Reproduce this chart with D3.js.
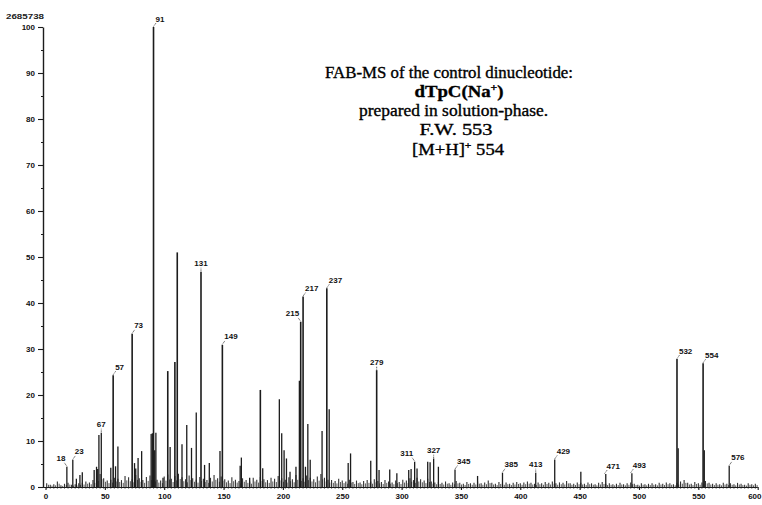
<!DOCTYPE html>
<html>
<head>
<meta charset="utf-8">
<script src="https://cdn.jsdelivr.net/npm/d3@7/dist/d3.min.js"></script>
<style>
  html, body { margin: 0; padding: 0; background: #fff; }
  svg { display: block; }
</style>
</head>
<body>
<svg id="chart" width="762" height="505"></svg>
<script>
// ---------------- DATA ----------------
// Main peaks (m/z) and relative intensities (%)
const peakMz  = [18, 23, 26, 29, 31, 41, 43, 44, 45, 47, 55, 57, 59, 61, 73, 75, 76, 78, 81,
                 89, 90, 92, 93, 99, 103, 105, 109, 111, 115, 119, 123, 127, 131, 134, 138,
                 147, 149, 164, 165, 172, 181, 183, 197, 199, 201, 203, 206, 211, 214, 215,
                 217, 219, 221, 223, 233, 237, 239, 255, 257, 274, 279, 281, 290, 296,
                 306, 308, 311, 313, 322, 324, 327, 331, 345, 364, 385, 413, 429, 451,
                 472, 494, 532, 533, 554, 555, 576];
const peakInt = [4.4, 5.9, 1.8, 2.6, 3.2, 3.7, 4.4, 3.9, 11.3, 11.8, 4.2, 24.3, 4.5, 8.8, 33.3, 5.2, 4.0, 6.3, 7.8,
                 11.5, 11.7, 8.0, 11.8, 2.0, 25.2, 8.7, 27.2, 51.0, 9.3, 13.5, 8.5, 16.2, 46.8, 4.8, 5.2,
                 7.8, 30.9, 4.6, 6.4, 2.0, 21.1, 4.1, 19.1, 11.7, 8.0, 6.2, 3.3, 4.4, 23.1, 35.9,
                 41.4, 4.4, 13.7, 5.9, 12.2, 43.2, 16.9, 5.2, 7.3, 5.7, 25.4, 3.7, 3.8, 3.0,
                 3.7, 3.9, 5.5, 4.0, 5.5, 5.4, 6.2, 4.4, 3.8, 2.4, 3.1, 3.1, 6.0, 3.3,
                 2.8, 3.0, 27.8, 8.4, 26.9, 8.0, 4.6];
const basePeakMz = 91, basePeakInt = 100;

// Baseline "grass": intensities read at every 3rd m/z starting at 1
const noiseStart = 1, noiseStep = 3;
const noiseInt = [
  0.8,0.5,0.6,1.2,0.4,0.7,0.9,0.5,0.6,0.8,
  0.9,1.2,1.0,1.5,2.2,2.8,1.9,1.4,1.6,2.0,
  1.8,1.5,2.4,2.1,1.7,2.6,1.9,1.5,2.2,2.5,
  2.0,1.6,1.4,2.3,2.7,1.8,2.4,2.9,2.1,1.7,
  2.5,1.9,1.6,2.2,1.8,1.5,2.0,2.6,1.9,2.3,
  1.7,1.4,2.1,1.6,1.3,1.9,1.5,1.2,2.0,1.6,
  2.2,1.7,1.5,2.0,1.8,2.4,1.9,1.6,2.1,1.7,
  2.6,2.2,1.9,2.5,2.0,1.7,2.3,2.8,2.0,1.6,
  1.5,1.3,1.8,1.4,1.2,1.6,1.1,1.4,1.0,1.3,
  1.5,1.2,1.7,1.3,1.1,1.5,1.2,1.0,1.4,1.1,
  1.6,1.4,1.9,1.5,2.0,1.7,1.4,1.8,1.2,1.0,
  1.1,0.9,1.2,0.8,1.0,1.3,0.9,0.7,1.1,0.8,
  0.9,1.2,0.8,1.0,1.4,0.9,0.7,1.1,0.8,1.0,
  0.7,0.9,1.1,0.8,1.0,1.2,0.9,0.7,1.0,0.8,
  1.1,0.9,1.2,0.8,1.0,0.9,1.3,0.8,0.7,1.0,
  0.9,0.7,1.0,0.8,0.6,0.9,1.1,0.7,0.8,0.6,
  0.7,0.9,0.6,0.8,1.0,0.7,0.5,0.8,0.6,0.7,
  0.8,0.6,0.9,0.7,1.0,0.8,0.6,0.9,1.2,1.5,
  0.9,0.7,1.1,0.8,1.0,1.3,0.9,0.7,0.8,0.6,
  0.9,0.7,0.8,0.6,0.9,0.7,0.5,0.8,0.6,0.7
];

// Labelled peaks
const labelMz   = [18, 23, 47, 57, 73, 91, 131, 149, 215, 217, 237, 279, 311, 327, 345, 385, 413, 429, 471, 493, 532, 554, 576];
const labelText = ["18","23","67","57","73","91","131","149","215","217","237","279","311","327","345","385","413","429","471","493","532","554","576"];
const labelTop  = [4.4, 5.9, 11.8, 24.3, 33.3, 100, 46.8, 30.9, 35.9, 41.4, 43.2, 25.4, 5.5, 6.2, 3.8, 3.1, 3.1, 6.0, 2.8, 3.0, 27.8, 26.9, 4.6];

// Axis ticks
const xTicks = [0, 50, 100, 150, 200, 250, 300, 350, 400, 450, 500, 550, 600];
const yTicks = [0, 10, 20, 30, 40, 50, 60, 70, 80, 90, 100];
const yMinorTicks = [5, 15, 25, 35, 45, 55, 65, 75, 85, 95];
const topCount = "2685738";

const titleLines = ["FAB-MS of the control dinucleotide:", "dTpC(Na", "prepared in solution-phase.", "F.W. 553", "[M+H]"];

// ---------------- DRAW ----------------
const svg = d3.select("#chart");
const ink = "#1c1c1c";
const x = d3.scaleLinear().domain([0, 600]).range([45.5, 757.7]);
const y = d3.scaleLinear().domain([0, 100]).range([487, 27]);
const tickFont = "Liberation Sans, Arial, sans-serif";

// noise sticks
const noise = noiseInt.map((v, i) => ({ mz: noiseStart + i * noiseStep, v }));
svg.append("g").selectAll("line").data(noise).join("line")
  .attr("x1", d => x(d.mz)).attr("x2", d => x(d.mz))
  .attr("y1", y(0) + 1.5).attr("y2", d => y(d.v))
  .attr("stroke", "#333").attr("stroke-width", 1.1);

// intermediate grass between the read points (scaled copy of neighbours)
svg.append("g").selectAll("line").data(noise).join("line")
  .attr("x1", d => x(d.mz + 1.5)).attr("x2", d => x(d.mz + 1.5))
  .attr("y1", y(0) + 1).attr("y2", d => y(d.v * 0.6))
  .attr("stroke", "#444").attr("stroke-width", 0.9);

// peaks
const peaks = peakMz.map((m, i) => ({ mz: m, v: peakInt[i] }));
peaks.push({ mz: basePeakMz, v: basePeakInt });
svg.append("g").selectAll("line").data(peaks).join("line")
  .attr("x1", d => x(d.mz)).attr("x2", d => x(d.mz))
  .attr("y1", y(0)).attr("y2", d => y(d.v))
  .attr("stroke", ink).attr("stroke-width", d => d.v > 20 ? 1.6 : 1.3);

// Y axis
const yAxis = d3.axisLeft(y).tickValues(yTicks).tickSize(5).tickSizeOuter(0).tickPadding(3).tickFormat(d3.format("d"));
const gy = svg.append("g").attr("transform", "translate(43,0)").call(yAxis);
const yMinor = d3.axisLeft(y).tickValues(yMinorTicks).tickSize(2).tickSizeOuter(0).tickFormat("");
const gym = svg.append("g").attr("transform", "translate(43,0)").call(yMinor);
gym.select(".domain").remove();

// X axis
const xAxis = d3.axisBottom(x).tickValues(xTicks).tickSize(3).tickSizeOuter(0).tickPadding(3).tickFormat(d3.format("d"));
const gx = svg.append("g").attr("transform", "translate(0,487)").call(xAxis);
gx.select(".domain").attr("d", `M${x(-2)},0.5H${x(600)}`);
// last label sits against the right edge of the picture
gx.selectAll(".tick text").filter(d => d === 600).attr("text-anchor", "end").attr("x", 761 - x(600));

[gy, gx, gym].forEach(g => {
  g.selectAll("path,line").attr("stroke", ink).attr("stroke-width", 1.1);
  g.selectAll("text").attr("fill", "#111").style("font-family", tickFont).style("font-size", "8px").style("font-weight", "bold");
});
gy.select(".domain").attr("stroke-width", 1.4);

// top-left count
svg.append("text").attr("x", 6).attr("y", 19).text(topCount)
  .attr("textLength", 38).attr("lengthAdjust", "spacingAndGlyphs")
  .style("font-family", tickFont).style("font-size", "7px").style("font-weight", "bold").attr("fill", "#222");

// peak labels
const sideOf = { "18": "l", "215": "l", "311": "l", "67": "c", "131": "c", "279": "c", "327": "c", "413": "c" };
const labels = labelMz.map((m, i) => ({ mz: m, t: labelText[i], v: labelTop[i], side: sideOf[labelText[i]] || "r" }));
const gl = svg.append("g");
labels.forEach(d => {
  const px = x(d.mz), py = y(d.v);
  const dxL = d.side === "r" ? 2.5 : d.side === "l" ? -2.5 : 0;
  gl.append("line").attr("x1", px).attr("y1", py - 0.5).attr("x2", px + dxL).attr("y2", py - 4)
    .attr("stroke", "#333").attr("stroke-width", 0.8).attr("stroke-dasharray", "1,0.6");
  gl.append("text")
    .attr("x", d.side === "r" ? px + 2 : d.side === "l" ? px - 1.5 : px)
    .attr("y", py - 5.5)
    .attr("text-anchor", d.side === "r" ? "start" : d.side === "l" ? "end" : "middle")
    .style("font-family", tickFont).style("font-size", "8px").style("font-weight", "bold")
    .attr("fill", "#111").text(d.t);
});

// Title block
const serif = "Liberation Serif, Times New Roman, serif";
const gt = svg.append("g").style("font-family", serif).attr("fill", "#000")
  .attr("stroke", "#000").attr("stroke-width", 0.35);
const t1 = gt.append("text").attr("x", 449).attr("y", 78).attr("text-anchor", "middle")
  .style("font-size", "16px").attr("textLength", 248).attr("lengthAdjust", "spacingAndGlyphs").text(titleLines[0]);
const t2 = gt.append("text").attr("x", 459).attr("y", 97).attr("text-anchor", "middle")
  .style("font-size", "16px").style("font-weight", "bold").attr("textLength", 89).attr("lengthAdjust", "spacingAndGlyphs");
t2.append("tspan").text(titleLines[1]);
t2.append("tspan").attr("dy", -6).style("font-size", "10px").text("+");
t2.append("tspan").attr("dy", 6).text(")");
gt.append("text").attr("x", 453.5).attr("y", 116).attr("text-anchor", "middle")
  .style("font-size", "16px").attr("textLength", 189).attr("lengthAdjust", "spacingAndGlyphs").text(titleLines[2]);
gt.append("text").attr("x", 456).attr("y", 135).attr("text-anchor", "middle")
  .style("font-size", "16px").attr("textLength", 73).attr("lengthAdjust", "spacingAndGlyphs").text(titleLines[3]);
const t5 = gt.append("text").attr("x", 458).attr("y", 155).attr("text-anchor", "middle")
  .style("font-size", "16px").attr("textLength", 92).attr("lengthAdjust", "spacingAndGlyphs");
t5.append("tspan").text(titleLines[4]);
t5.append("tspan").attr("dy", -6).style("font-size", "10px").text("+");
t5.append("tspan").attr("dy", 6).text(" 554");
</script>
</body>
</html>
